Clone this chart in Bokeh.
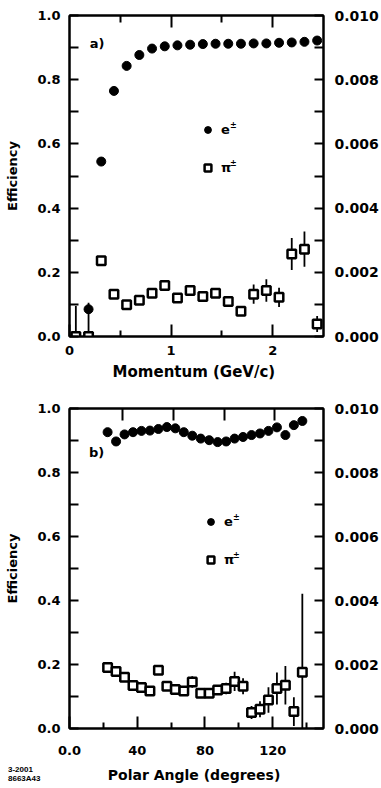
from bokeh.plotting import figure
from bokeh.models import (ColumnDataSource, Range1d, LinearAxis, FixedTicker, Label, Div,
                          Legend, LegendItem, PrintfTickFormatter, CustomJSTickFormatter)
from bokeh.layouts import column
from bokeh.embed import file_html
from bokeh.resources import INLINE

# ---------------- data ----------------
# panel a) efficiency vs momentum (GeV/c)
mom_bins = [0.0625, 0.1875, 0.3125, 0.4375, 0.5625, 0.6875, 0.8125, 0.9375, 1.0625, 1.1875,
            1.3125, 1.4375, 1.5625, 1.6875, 1.8125, 1.9375, 2.0625, 2.1875, 2.3125, 2.4375]
e_eff_mom = [0.0, 0.085, 0.545, 0.765, 0.843, 0.877, 0.897, 0.904, 0.907, 0.909,
             0.911, 0.912, 0.912, 0.912, 0.913, 0.913, 0.915, 0.916, 0.918, 0.922]
e_err_lo_mom = [0.0, 0.085, 0, 0, 0, 0, 0, 0, 0, 0, 0, 0, 0, 0, 0, 0, 0, 0, 0, 0]
e_err_hi_mom = [0.095, 0.02, 0, 0, 0, 0, 0, 0, 0, 0, 0, 0, 0, 0, 0, 0, 0, 0, 0, 0]
pi_eff_mom = [0.0, 0.0, 0.00236, 0.00132, 0.00099, 0.00113, 0.00135, 0.00159, 0.00120, 0.00143,
              0.00125, 0.00135, 0.00109, 0.00079, 0.00132, 0.00143, 0.00122, 0.00257, 0.00272, 0.00039]
pi_err_mom = [0, 0, 0, 0, 0, 0, 0, 0, 0, 0,
              0, 0, 0, 0, 0.0003, 0.00035, 0.0003, 0.0005, 0.00055, 0.00025]

# panel b) efficiency vs polar angle (degrees)
ang_bins = [22.5, 27.5, 32.5, 37.5, 42.5, 47.5, 52.5, 57.5, 62.5, 67.5, 72.5, 77.5,
            82.5, 87.5, 92.5, 97.5, 102.5, 107.5, 112.5, 117.5, 122.5, 127.5, 132.5, 137.5]
e_eff_ang = [0.926, 0.897, 0.919, 0.926, 0.930, 0.931, 0.936, 0.942, 0.938, 0.926, 0.915, 0.906,
             0.901, 0.895, 0.897, 0.906, 0.911, 0.917, 0.922, 0.930, 0.941, 0.917, 0.948, 0.961]
pi_eff_ang = [0.00191, 0.00178, 0.00160, 0.00134, 0.00128, 0.00117, 0.00182, 0.00132, 0.00122, 0.00117,
              0.00145, 0.00110, 0.00110, 0.00120, 0.00125, 0.00147, 0.00132, 0.00050, 0.00060, 0.00089,
              0.00125, 0.00135, 0.00053, 0.00176]
pi_err_ang = [0.0001, 0.0001, 0.0001, 0.0001, 0.0001, 0.0001, 0.00015, 0.0001, 0.0001, 0.0001,
              0.00018, 0.00012, 0.00012, 0.00015, 0.00018, 0.0003, 0.00025, 0.0002, 0.00025, 0.0004,
              0.0005, 0.0006, 0.00045, 0.00245]

left_ticks = [0.0, 0.2, 0.4, 0.6, 0.8, 1.0]
left_minor = [0.1, 0.3, 0.5, 0.7, 0.9]
right_ticks = [0.0, 0.002, 0.004, 0.006, 0.008, 0.010]
right_minor = [0.001, 0.003, 0.005, 0.007, 0.009]

FONT = "DejaVu Sans"


def style_axis(ax, major_in, minor_in, size="13px", standoff=9):
    ax.axis_line_width = 2
    ax.axis_line_color = "black"
    ax.major_tick_in = major_in
    ax.major_tick_out = 0
    ax.minor_tick_in = minor_in
    ax.minor_tick_out = 0
    ax.major_tick_line_width = 2
    ax.minor_tick_line_width = 2
    ax.major_tick_line_color = "black"
    ax.minor_tick_line_color = "black"
    ax.major_label_text_font = FONT
    ax.major_label_text_font_style = "bold"
    ax.major_label_text_font_size = size
    ax.major_label_text_color = "black"
    ax.major_label_standoff = standoff
    ax.axis_label_text_font = FONT
    ax.axis_label_text_font_style = "bold"
    ax.axis_label_text_color = "black"


def make_panel(xs, e_vals, e_lo, e_hi, pi_vals, pi_lo, pi_hi, xr, xticks, xminor, xlabel,
               xformatter, top_ticks, top_minor, tag, tag_xy, height, borders, legend_loc,
               pm_xy, xlabel_size, x_standoffs):
    left_b, right_b, top_b, bottom_b = borders
    p = figure(width=381, height=height, x_range=Range1d(*xr), y_range=Range1d(0, 1),
               output_backend="svg", toolbar_location=None,
               min_border_left=left_b, min_border_right=right_b,
               min_border_top=top_b, min_border_bottom=bottom_b)
    p.extra_y_ranges = {"pi": Range1d(0, 0.01)}
    p.xgrid.grid_line_color = None
    p.ygrid.grid_line_color = None
    p.outline_line_color = "black"
    p.outline_line_width = 2
    p.background_fill_color = "white"
    p.border_fill_color = "white"

    # left axis
    ya = p.yaxis[0]
    ya.ticker = FixedTicker(ticks=left_ticks, minor_ticks=left_minor)
    ya.formatter = PrintfTickFormatter(format="%.1f")
    ya.axis_label = "Efficiency"
    style_axis(ya, 9, 9, standoff=9)
    ya.axis_label_text_font_size = "13px"
    ya.axis_label_standoff = 14

    # bottom axis
    xa = p.xaxis[0]
    xa.ticker = FixedTicker(ticks=xticks, minor_ticks=xminor)
    xa.formatter = xformatter
    xa.axis_label = xlabel
    style_axis(xa, 12, 6, standoff=x_standoffs[0])
    xa.axis_label_text_font_size = xlabel_size
    xa.axis_label_standoff = x_standoffs[1]

    # top axis (ticks only)
    ta = LinearAxis(ticker=FixedTicker(ticks=top_ticks, minor_ticks=top_minor))
    style_axis(ta, 12, 7, size="0px", standoff=0)
    ta.major_label_text_alpha = 0
    p.add_layout(ta, "above")

    # right axis (pion scale)
    ra = LinearAxis(y_range_name="pi", ticker=FixedTicker(ticks=right_ticks, minor_ticks=right_minor),
                    formatter=PrintfTickFormatter(format="%.3f"))
    style_axis(ra, 9, 9, size="14px", standoff=11)
    p.add_layout(ra, "right")

    e_src = ColumnDataSource(dict(x=xs, y=e_vals,
                                  lo=[v - d for v, d in zip(e_vals, e_lo)],
                                  hi=[v + d for v, d in zip(e_vals, e_hi)]))
    pi_src = ColumnDataSource(dict(x=xs, y=pi_vals,
                                   lo=[v - d for v, d in zip(pi_vals, pi_lo)],
                                   hi=[v + d for v, d in zip(pi_vals, pi_hi)]))

    p.segment(x0="x", y0="lo", x1="x", y1="hi", source=e_src, line_color="black", line_width=1.8)
    p.segment(x0="x", y0="lo", x1="x", y1="hi", source=pi_src, line_color="black", line_width=1.8,
              y_range_name="pi")
    e_r = p.scatter(x="x", y="y", source=e_src, marker="circle", size=9,
                    fill_color="black", line_color="black")
    pi_r = p.scatter(x="x", y="y", source=pi_src, marker="square", size=8.5,
                     fill_color="white", line_color="black", line_width=2.5, y_range_name="pi")

    legend = Legend(items=[LegendItem(label="e", renderers=[e_r]),
                           LegendItem(label="π", renderers=[pi_r])],
                    location=legend_loc, orientation="vertical",
                    padding=0, margin=0, spacing=21, glyph_width=17, glyph_height=17,
                    label_height=17, label_standoff=5,
                    border_line_color=None, background_fill_alpha=0,
                    label_text_font=FONT, label_text_font_style="bold",
                    label_text_font_size="13px", label_text_color="black")
    p.add_layout(legend)

    for (px, py) in pm_xy:
        p.add_layout(Label(x=px, y=py, text="±", text_font=FONT, text_font_style="bold",
                           text_font_size="8px", text_color="black", text_baseline="middle"))

    p.add_layout(Label(x=tag_xy[0], y=tag_xy[1], text=tag, text_font=FONT, text_font_style="bold",
                       text_font_size="13px", text_color="black", text_baseline="middle"))
    return p


p1 = make_panel(mom_bins, e_eff_mom, e_err_lo_mom, e_err_hi_mom,
                pi_eff_mom, pi_err_mom, pi_err_mom,
                (0, 2.5), [0, 1, 2], [0.5, 1.5], "Momentum  (GeV/c)",
                PrintfTickFormatter(format="%d"), [1, 2], [0.5, 1.5],
                "a)", (0.2, 0.913), 392, (69, 58, 15, 56), (130, 160),
                [(1.58, 0.658), (1.58, 0.54)], "15px", (9, 5))

ang_fmt = CustomJSTickFormatter(code="return tick == 0 ? '0.0' : tick.toFixed(0);")
p2 = make_panel(ang_bins, e_eff_ang, [0] * len(ang_bins), [0] * len(ang_bins),
                pi_eff_ang, pi_err_ang, pi_err_ang,
                (0, 150), [0, 40, 80, 120], [20, 60, 100, 140], "Polar Angle  (degrees)",
                ang_fmt, [31.5, 61.5, 91.5, 121], [],
                "b)", (11.5, 0.8625), 396, (65, 58, 16, 60), (133, 160),
                [(96.5, 0.66), (96.5, 0.54)], "14px", (17, 9))

# figure code in the lower-left corner (overlaps the bottom margin of panel b)
code_div = Div(text="3-2001<br>8663A43", width=60, height=23, margin=(-23, 0, 0, 8),
               styles={"font-family": "Liberation Sans", "font-weight": "bold",
                       "font-size": "8px", "line-height": "9px", "color": "black",
                       "position": "relative", "z-index": "10"})

layout = column(p1, p2, code_div, spacing=0)
open("out.html", "w").write(file_html(layout, INLINE))
